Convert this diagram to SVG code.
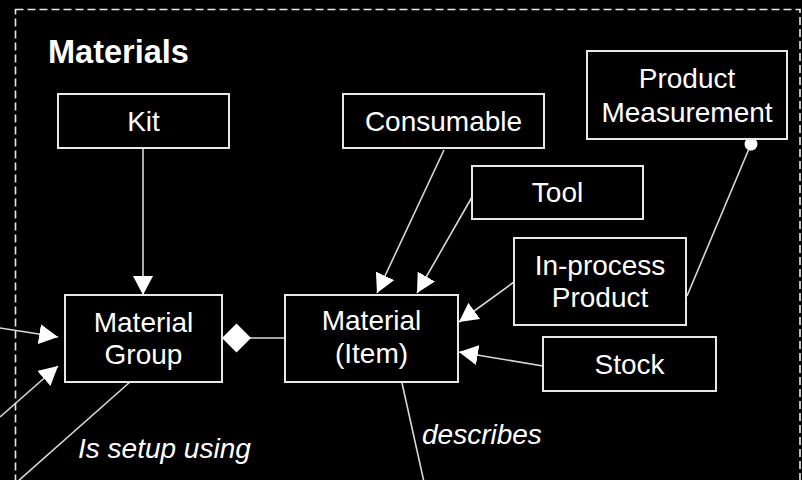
<svg xmlns="http://www.w3.org/2000/svg" width="802" height="480" viewBox="0 0 802 480">
<defs>
<style>
.box{fill:#000;stroke:#e8e8e8;stroke-width:2}
.t{font-family:"Liberation Sans",Arial,sans-serif;font-size:28px;fill:#fff;text-anchor:middle}
.lbl{font-family:"Liberation Sans",Arial,sans-serif;font-size:28px;fill:#fff;font-style:italic}
.ln{stroke:#d8d8d8;stroke-width:1.6;fill:none}
</style>
<marker id="arr" markerUnits="userSpaceOnUse" markerWidth="20" markerHeight="20" viewBox="0 0 18 18" refX="17" refY="9" orient="auto">
<path d="M0,0 L17,9 L0,18 Z" fill="#fff"/>
</marker>
<marker id="dot" markerUnits="userSpaceOnUse" markerWidth="14" markerHeight="14" viewBox="0 0 14 14" refX="7" refY="7" orient="auto">
<circle cx="7" cy="7" r="6.5" fill="#fff"/>
</marker>
</defs>
<rect x="0" y="0" width="802" height="480" fill="#000"/>
<rect x="15.5" y="9.5" width="784.5" height="490" fill="none" stroke="#e8e8e8" stroke-width="1.6" stroke-dasharray="8,4"/>
<text x="48" y="63" font-family="Liberation Sans,Arial,sans-serif" font-size="32.5px" font-weight="bold" fill="#fff">Materials</text>
<g id="connectors">
<line class="ln" x1="143" y1="149" x2="143" y2="295" marker-end="url(#arr)"/>
<line class="ln" x1="444" y1="150" x2="377" y2="293" marker-end="url(#arr)"/>
<line class="ln" x1="472" y1="197" x2="417" y2="293" marker-end="url(#arr)"/>
<line class="ln" x1="514" y1="282" x2="459" y2="322" marker-end="url(#arr)"/>
<line class="ln" x1="543" y1="366" x2="459" y2="352" marker-end="url(#arr)"/>
<line class="ln" x1="285" y1="338" x2="250" y2="338"/>
<polygon points="222,338 236.5,323.5 251,338 236.5,352.5" fill="#fff"/>
<line class="ln" x1="687" y1="296" x2="751" y2="144" marker-end="url(#dot)"/>
<line class="ln" x1="0" y1="328" x2="58" y2="337" marker-end="url(#arr)"/>
<line class="ln" x1="0" y1="417" x2="58" y2="366" marker-end="url(#arr)"/>
<line class="ln" x1="130" y1="382" x2="17" y2="482"/>
<line class="ln" x1="402" y1="383" x2="424" y2="482"/>
<text class="lbl" x="78" y="458">Is setup using</text>
<text class="lbl" x="422" y="444">describes</text>
</g>
<g id="kit"><rect class="box" x="58" y="94" width="171" height="54"/><text class="t" x="143.5" y="131">Kit</text></g>
<g id="consumable"><rect class="box" x="343" y="94" width="201" height="54"/><text class="t" x="443.5" y="131">Consumable</text></g>
<g id="product-measurement"><rect class="box" x="587" y="51" width="200" height="88"/><text class="t" x="687" y="88">Product</text><text class="t" x="687" y="122">Measurement</text></g>
<g id="tool"><rect class="box" x="472" y="166" width="171" height="53"/><text class="t" x="557.5" y="202">Tool</text></g>
<g id="in-process-product"><rect class="box" x="514" y="238" width="172" height="87"/><text class="t" x="600" y="275">In-process</text><text class="t" x="600" y="307">Product</text></g>
<g id="stock"><rect class="box" x="543" y="337" width="173" height="54"/><text class="t" x="629.5" y="374">Stock</text></g>
<g id="material-group"><rect class="box" x="65" y="295" width="157" height="87"/><text class="t" x="143.5" y="332">Material</text><text class="t" x="143.5" y="364">Group</text></g>
<g id="material-item"><rect class="box" x="285" y="295" width="173" height="87"/><text class="t" x="371.5" y="330">Material</text><text class="t" x="371.5" y="363">(Item)</text></g>
</svg>
